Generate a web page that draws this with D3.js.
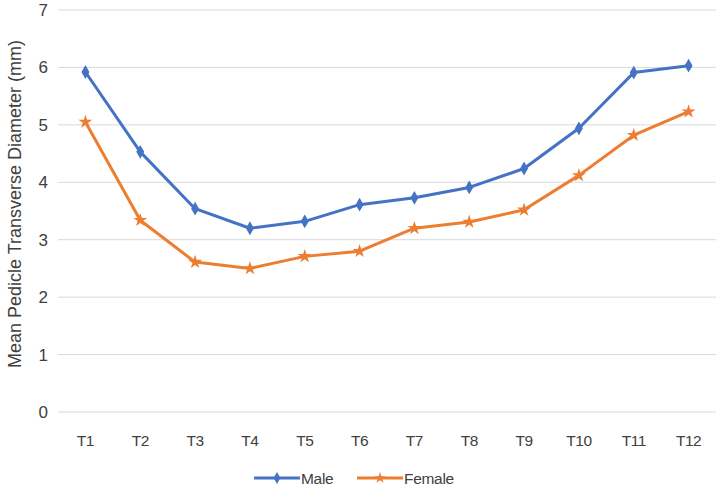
<!DOCTYPE html>
<html><head><meta charset="utf-8">
<script src="https://cdn.jsdelivr.net/npm/d3@7"></script>
<style>body{margin:0;background:#fff}svg{display:block}text{font-family:"Liberation Sans","Noto Sans",sans-serif;fill:#404040}</style>
</head><body><svg id="c" width="720" height="488"></svg>
<script>
const categories = ["T1","T2","T3","T4","T5","T6","T7","T8","T9","T10","T11","T12"];
const male = [5.92,4.53,3.54,3.2,3.32,3.61,3.73,3.91,4.24,4.94,5.91,6.03];
const female = [5.05,3.34,2.61,2.5,2.71,2.8,3.2,3.31,3.52,4.12,4.82,5.23];
const yTicks = [0,1,2,3,4,5,6,7];
const seriesNames = ["Male","Female"];
const colors = ["#4472C4","#ED7D31"];

const svg = d3.select("#c");
const L=58,R=716,T=10,B=412;
const x = d3.scaleBand().domain(categories).range([L,R]);
const y = d3.scaleLinear().domain([0,7]).range([B,T]);

svg.append("g").selectAll("line").data(yTicks).join("line")
  .attr("x1",L).attr("x2",R).attr("y1",d=>y(d)).attr("y2",d=>y(d))
  .attr("stroke","#d9d9d9").attr("stroke-width",1);
svg.append("g").selectAll("text").data(yTicks).join("text")
  .attr("x",48).attr("y",d=>y(d)+6).attr("text-anchor","end")
  .attr("font-size",17).text(d=>d);
svg.append("g").selectAll("text").data(categories).join("text")
  .attr("x",d=>x(d)+x.bandwidth()/2).attr("y",446).attr("text-anchor","middle")
  .attr("font-size",15.5).attr("letter-spacing",-0.5).text(d=>d);
svg.append("text").attr("transform","translate(21,204) rotate(-90)")
  .attr("text-anchor","middle").attr("font-size",18)
  .text("Mean Pedicle Transverse Diameter (mm)");

const line = d3.line().x((d,i)=>x(categories[i])+x.bandwidth()/2).y(d=>y(d));
[male,female].forEach((s,k)=>{
  svg.append("path").datum(s).attr("d",line).attr("fill","none")
    .attr("stroke",colors[k]).attr("stroke-width",3).attr("stroke-linejoin","round");
  svg.append("g").selectAll("path").data(s).join("path")
    .attr("transform",(d,i)=>`translate(${x(categories[i])+x.bandwidth()/2},${y(d)})`)
    .attr("d",d3.symbol().type(k===0?d3.symbolDiamond:d3.symbolStar).size(k===0?55:60)())
    .attr("fill",colors[k]);
});

const lg=[{x:254,t:"Male"},{x:357,t:"Female"}];
lg.forEach((g,k)=>{
  svg.append("line").attr("x1",g.x).attr("x2",g.x+46).attr("y1",478).attr("y2",478)
    .attr("stroke",colors[k]).attr("stroke-width",3);
  svg.append("path").attr("transform",`translate(${g.x+23},478)`)
    .attr("d",d3.symbol().type(k===0?d3.symbolDiamond:d3.symbolStar).size(40)()).attr("fill",colors[k]);
  svg.append("text").attr("x",g.x+47).attr("y",484).attr("font-size",15.5).attr("letter-spacing",-0.3).text(g.t);
});
</script></body></html>
